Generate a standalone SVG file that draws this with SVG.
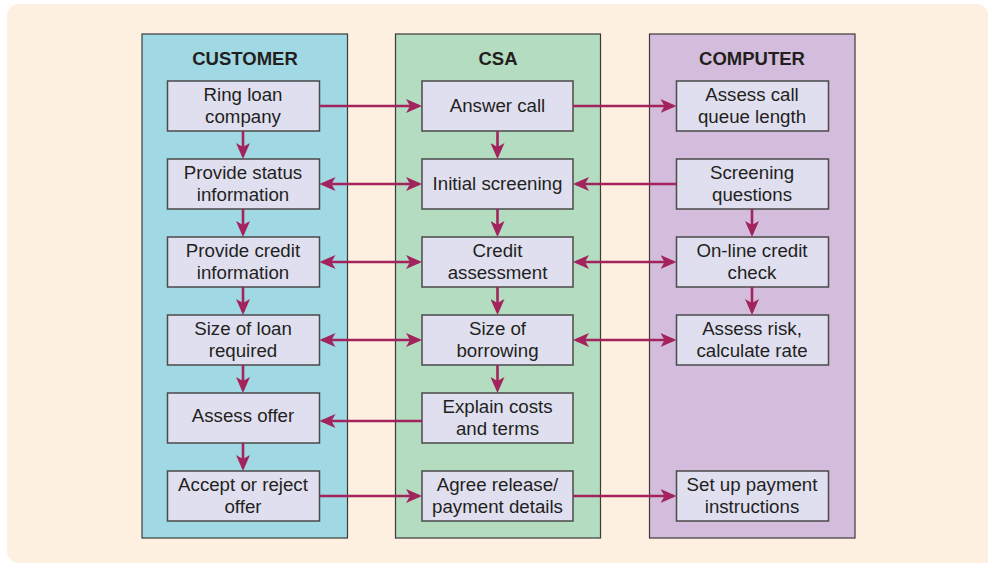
<svg xmlns="http://www.w3.org/2000/svg" width="988" height="563" viewBox="0 0 988 563">
<style>
.lane{stroke:#3a3a3a;stroke-width:1.2}
.box rect{fill:#e0dff0;stroke:#4a4a4a;stroke-width:1.5}
.box text{font-family:"Liberation Sans",Arial,sans-serif;font-size:18.7px;fill:#231f20;text-anchor:middle}
.title{font-family:"Liberation Sans",Arial,sans-serif;font-size:18.5px;font-weight:bold;fill:#231f20;text-anchor:middle}
.conn path{fill:none;stroke:#a3235d;stroke-width:2.6}
</style>
<defs>
<marker id="ah" viewBox="0 0 16 14" refX="13" refY="7" markerWidth="16" markerHeight="14" markerUnits="userSpaceOnUse" orient="auto-start-reverse">
<path d="M0,0 L16,7 L0,14 L4,7 z" fill="#a3235d"/>
</marker>
</defs>
<path d="M19,4 H977 A11,11 0 0 1 988,15 V563 H19 A12,12 0 0 1 7,551 V16 A12,12 0 0 1 19,4 Z" fill="#fdf0e1"/>
<g id="lane-customer"><rect class="lane" x="142" y="34" width="205.5" height="504" fill="#a0d9e4"/><text class="title" x="245" y="65">CUSTOMER</text></g>
<g id="lane-csa"><rect class="lane" x="395.5" y="34" width="205" height="504" fill="#b3dcc0"/><text class="title" x="498" y="65">CSA</text></g>
<g id="lane-computer"><rect class="lane" x="649.5" y="34" width="205.5" height="504" fill="#d4bddc"/><text class="title" x="752" y="65">COMPUTER</text></g>

<g id="c1" class="box"><rect x="167.5" y="81" width="152" height="50"/><text x="243" y="101">Ring loan</text><text x="243" y="123">company</text></g>
<g id="c2" class="box"><rect x="167.5" y="159" width="152" height="50"/><text x="243" y="179">Provide status</text><text x="243" y="201">information</text></g>
<g id="c3" class="box"><rect x="167.5" y="237" width="152" height="50"/><text x="243" y="257">Provide credit</text><text x="243" y="279">information</text></g>
<g id="c4" class="box"><rect x="167.5" y="315" width="152" height="50"/><text x="243" y="335">Size of loan</text><text x="243" y="357">required</text></g>
<g id="c5" class="box"><rect x="167.5" y="393" width="152" height="50"/><text x="243" y="422">Assess offer</text></g>
<g id="c6" class="box"><rect x="167.5" y="471" width="152" height="50"/><text x="243" y="491">Accept or reject</text><text x="243" y="513">offer</text></g>

<g id="s1" class="box"><rect x="422" y="81" width="151" height="50"/><text x="497.5" y="112">Answer call</text></g>
<g id="s2" class="box"><rect x="422" y="159" width="151" height="50"/><text x="497.5" y="190">Initial screening</text></g>
<g id="s3" class="box"><rect x="422" y="237" width="151" height="50"/><text x="497.5" y="257">Credit</text><text x="497.5" y="279">assessment</text></g>
<g id="s4" class="box"><rect x="422" y="315" width="151" height="50"/><text x="497.5" y="335">Size of</text><text x="497.5" y="357">borrowing</text></g>
<g id="s5" class="box"><rect x="422" y="393" width="151" height="50"/><text x="497.5" y="413">Explain costs</text><text x="497.5" y="435">and terms</text></g>
<g id="s6" class="box"><rect x="422" y="471" width="151" height="50"/><text x="497.5" y="491">Agree release/</text><text x="497.5" y="513">payment details</text></g>

<g id="p1" class="box"><rect x="676.5" y="81" width="152" height="50"/><text x="752" y="101">Assess call</text><text x="752" y="123">queue length</text></g>
<g id="p2" class="box"><rect x="676.5" y="159" width="152" height="50"/><text x="752" y="179">Screening</text><text x="752" y="201">questions</text></g>
<g id="p3" class="box"><rect x="676.5" y="237" width="152" height="50"/><text x="752" y="257">On-line credit</text><text x="752" y="279">check</text></g>
<g id="p4" class="box"><rect x="676.5" y="315" width="152" height="50"/><text x="752" y="335">Assess risk,</text><text x="752" y="357">calculate rate</text></g>
<g id="p6" class="box"><rect x="676.5" y="471" width="152" height="50"/><text x="752" y="491">Set up payment</text><text x="752" y="513">instructions</text></g>

<g id="connectors" class="conn">
<path d="M319.5,106 H419" marker-end="url(#ah)"/>
<path d="M573,106 H673.5" marker-end="url(#ah)"/>
<path d="M243,131 V156" marker-end="url(#ah)"/>
<path d="M497.5,131 V156" marker-end="url(#ah)"/>
<path d="M322.5,184 H419" marker-start="url(#ah)" marker-end="url(#ah)"/>
<path d="M676.5,184 H576" marker-end="url(#ah)"/>
<path d="M243,209 V234" marker-end="url(#ah)"/>
<path d="M497.5,209 V234" marker-end="url(#ah)"/>
<path d="M752,209 V234" marker-end="url(#ah)"/>
<path d="M322.5,262 H419" marker-start="url(#ah)" marker-end="url(#ah)"/>
<path d="M576,262 H673.5" marker-start="url(#ah)" marker-end="url(#ah)"/>
<path d="M243,287 V312" marker-end="url(#ah)"/>
<path d="M497.5,287 V312" marker-end="url(#ah)"/>
<path d="M752,287 V312" marker-end="url(#ah)"/>
<path d="M322.5,340 H419" marker-start="url(#ah)" marker-end="url(#ah)"/>
<path d="M576,340 H673.5" marker-start="url(#ah)" marker-end="url(#ah)"/>
<path d="M243,365 V390" marker-end="url(#ah)"/>
<path d="M497.5,365 V390" marker-end="url(#ah)"/>
<path d="M422,421 H322.5" marker-end="url(#ah)"/>
<path d="M243,443 V468" marker-end="url(#ah)"/>
<path d="M319.5,496 H419" marker-end="url(#ah)"/>
<path d="M573,496 H673.5" marker-end="url(#ah)"/>
</g>
</svg>
